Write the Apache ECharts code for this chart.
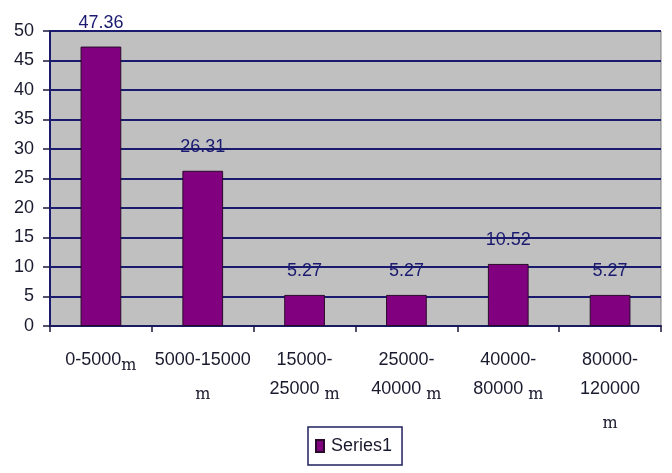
<!DOCTYPE html>
<html><head><meta charset="utf-8">
<script src="https://cdn.jsdelivr.net/npm/echarts@6/dist/echarts.min.js"></script>
<style>html,body{margin:0;padding:0;background:#fff}#c{width:672px;height:473px}</style>
</head><body><div id="c"></div>
<script>
const categories = ['0-5000{m|m}', '5000-15000\n{m|m}', '15000-\n25000 {m|m}', '25000-\n40000 {m|m}', '40000-\n80000 {m|m}', '80000-\n120000\n{m|m}'];
const seriesName = 'Series1';
const values = [47.36, 26.31, 5.27, 5.27, 10.52, 5.27];
const yTicks = { min: 0, max: 50, interval: 5 };

const chart = echarts.init(document.getElementById('c'), null, { renderer: 'canvas' });
chart.setOption({
  animation: false,
  backgroundColor: '#ffffff',
  grid: { left: 50, right: 11, top: 31, bottom: 147, show: true, backgroundColor: '#c0c0c0', borderColor: '#808080', borderWidth: 1 },
  legend: {
    data: [seriesName], top: 427, left: 308, itemWidth: 8, itemHeight: 12, itemGap: 5,
    padding: [10, 10, 10, 7], borderColor: '#202060', borderWidth: 1.5, borderRadius: 0,
    textStyle: { fontFamily: 'Liberation Sans', fontSize: 18, color: '#1a1a2e', padding: [0, 0, 0, 2] },
    icon: 'rect'
  },
  xAxis: {
    type: 'category', data: categories,
    axisLine: { lineStyle: { color: '#1a1a60', width: 2 } },
    axisTick: { show: true, length: 6, lineStyle: { color: '#1a1a40', width: 1.5 } },
    axisLabel: {
      interval: 0, margin: 20, lineHeight: 29, fontFamily: 'Liberation Sans', fontSize: 18, color: '#1a1a2e',
      rich: { m: { fontFamily: 'DejaVu Serif', fontSize: 16, color: '#1a1a2e', padding: [10, 0, 0, 0] } }
    }
  },
  yAxis: {
    type: 'value', min: yTicks.min, max: yTicks.max, interval: yTicks.interval,
    axisLine: { show: true, lineStyle: { color: '#1a1a70', width: 2 } },
    axisTick: { show: true, length: 7, lineStyle: { color: '#1a1a40', width: 1.5 } },
    axisLabel: { margin: 16, fontFamily: 'Liberation Sans', fontSize: 18, color: '#1a1a2e' },
    splitLine: { lineStyle: { color: '#1a1a6e', width: 2 } }
  },
  series: [{
    name: seriesName, type: 'bar', data: values, barWidth: '40%',
    itemStyle: { color: '#800080', borderColor: '#2a0a2a', borderWidth: 1 },
    label: { show: true, position: 'top', distance: 15, fontFamily: 'Liberation Sans', fontSize: 18, color: '#1a1a70' }
  }]
});
</script></body></html>
